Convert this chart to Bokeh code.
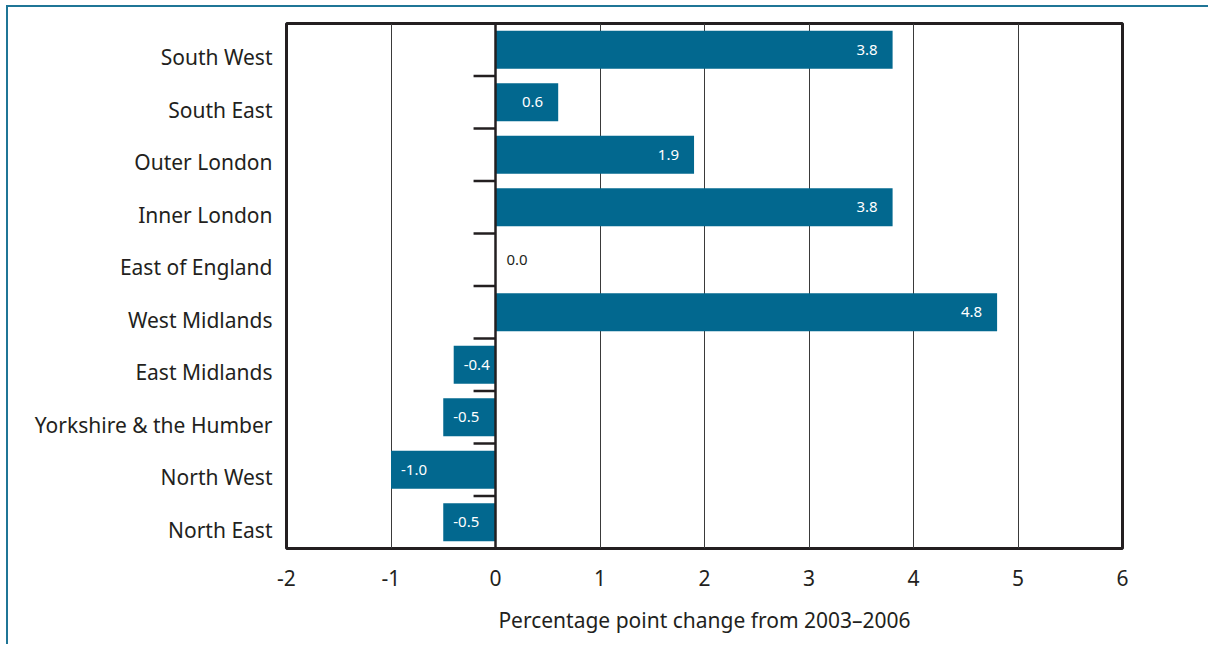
from bokeh.plotting import figure
from bokeh.models import ColumnDataSource, FixedTicker, Span
from bokeh.embed import file_html
from bokeh.resources import INLINE
from bokeh.core.properties import value

# ---- data (top to bottom as in the chart) ----
regions = ["South West", "South East", "Outer London", "Inner London", "East of England",
           "West Midlands", "East Midlands", "Yorkshire & the Humber", "North West", "North East"]
changes = [3.8, 0.6, 1.9, 3.8, 0.0, 4.8, -0.4, -0.5, -1.0, -0.5]
labels = ["3.8", "0.6", "1.9", "3.8", "0.0", "4.8", "-0.4", "-0.5", "-1.0", "-0.5"]
x_ticks = [-2, -1, 0, 1, 2, 3, 4, 5, 6]
x_tick_labels = ["-2", "-1", "0", "1", "2", "3", "4", "5", "6"]
x_title = "Percentage point change from 2003\u20132006"

FONT = "Noto Sans"
DARK = "#231f20"
BAR = "#02688f"

n = len(regions)
ypos = [n - 1 - i for i in range(n)]  # top item highest
label_pos = [round(y - 0.14, 2) for y in ypos]  # category labels sit slightly below bar centres

p = figure(width=1200, height=637, output_backend="svg", toolbar_location=None,
           x_range=(-2, 6), y_range=(-0.5, n - 0.5),
           frame_width=836, frame_height=525,
           min_border_left=278, min_border_right=86, min_border_top=16, min_border_bottom=96)
p.styles = {"border-top": "2px solid #1f7596", "border-left": "2px solid #1f7596",
            "margin-top": "5px", "margin-left": "6px"}

p.outline_line_color = DARK
p.outline_line_width = 3
p.outline_line_alpha = 1
p.background_fill_color = "white"
p.border_fill_color = "white"

# grid
p.xgrid.ticker = FixedTicker(ticks=x_ticks)
p.xgrid.grid_line_color = "#3a3a3a"
p.xgrid.grid_line_width = 1
p.ygrid.grid_line_color = None

# bars
src = ColumnDataSource(dict(
    y=ypos, v=changes, lab=labels,
    align=["right" if v > 0 else "left" for v in changes],
    off=[-15 if v > 0 else (10 if v < 0 else 11) for v in changes],
    col=["white" if v != 0 else DARK for v in changes],
))
p.hbar(y="y", left=0, right="v", height=0.72, source=src, fill_color=BAR, line_color=None)

# zero line
p.add_layout(Span(location=0, dimension="height", line_color=DARK, line_width=2.5))

# small ticks at category boundaries on the zero line
bounds = [i + 0.5 for i in range(n - 1)]
p.segment(x0=[-0.21] * len(bounds), x1=[0] * len(bounds), y0=bounds, y1=bounds,
          line_color=DARK, line_width=2.5)

# value labels
p.text(x="v", y="y", text="lab", source=src, text_align="align", x_offset="off",
       text_baseline="middle", text_color="col", text_font=value(FONT), text_font_size="15px")

# x axis
xa = p.xaxis[0]
xa.ticker = FixedTicker(ticks=x_ticks)
xa.major_label_overrides = {t: s for t, s in zip(x_ticks, x_tick_labels)}
xa.axis_line_color = None
xa.major_tick_line_color = None
xa.minor_tick_line_color = None
xa.major_label_standoff = 15
xa.major_label_text_font = FONT
xa.major_label_text_font_size = "21px"
xa.major_label_text_color = DARK
xa.axis_label = x_title
xa.axis_label_standoff = 17
xa.axis_label_text_font = FONT
xa.axis_label_text_font_size = "21px"
xa.axis_label_text_font_style = "normal"
xa.axis_label_text_color = DARK

# y axis
ya = p.yaxis[0]
ya.ticker = FixedTicker(ticks=label_pos)
ya.major_label_overrides = {y: r for y, r in zip(label_pos, regions)}
ya.axis_line_color = None
ya.major_tick_line_color = None
ya.minor_tick_line_color = None
ya.major_label_standoff = 8
ya.major_label_text_font = FONT
ya.major_label_text_font_size = "21px"
ya.major_label_text_color = DARK

open("out.html", "w").write(file_html(p, INLINE))
